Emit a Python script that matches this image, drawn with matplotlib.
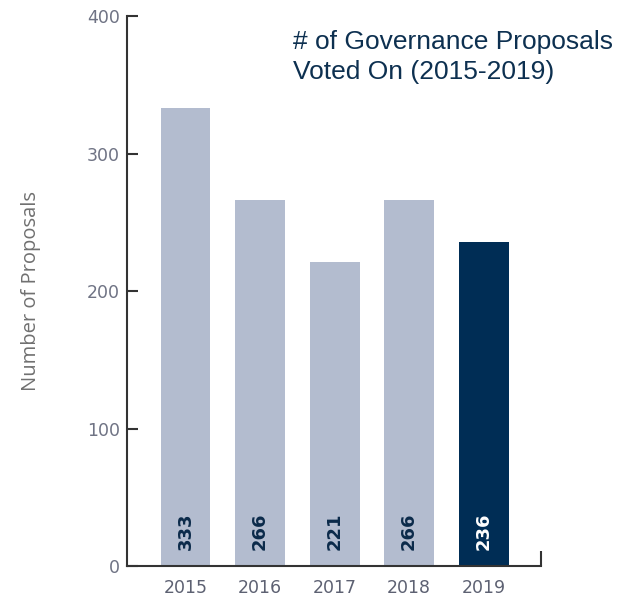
import matplotlib
matplotlib.use("Agg")
import matplotlib.pyplot as plt

years = ["2015", "2016", "2017", "2018", "2019"]
proposals = [333, 266, 221, 266, 236]
bar_colors = ["#b3bccf", "#b3bccf", "#b3bccf", "#b3bccf", "#002d55"]
label_colors = ["#0b2a4a", "#0b2a4a", "#0b2a4a", "#0b2a4a", "#ffffff"]
y_ticks = [0, 100, 200, 300, 400]

fig = plt.figure(figsize=(6.17, 5.97), dpi=100)
ax = fig.add_axes([0.2058, 0.0519, 0.6710, 0.9213])

x = list(range(len(years)))
ax.bar(x, proposals, width=0.67, color=bar_colors, zorder=2)

for xi, v, c in zip(x, proposals, label_colors):
    ax.text(xi, 25, str(v), rotation=90, ha="center", va="center",
            fontsize=13, fontweight="bold", color=c, family="DejaVu Sans", zorder=3)

ax.set_xlim(-0.785, 4.77)
ax.set_ylim(0, 400)
ax.set_xticks(x)
ax.set_xticklabels(years)
ax.set_yticks(y_ticks)

for s in ["top", "right"]:
    ax.spines[s].set_visible(False)
for s in ["left", "bottom"]:
    ax.spines[s].set_color("#333333")
    ax.spines[s].set_linewidth(1.5)

# short closing mark at the right end of the baseline
ax.plot([1, 1], [0, 0.028], transform=ax.transAxes, color="#333333",
        lw=1.5, clip_on=False, solid_capstyle="butt")

ax.tick_params(axis="y", direction="in", length=8, width=1.5, color="#333333",
               pad=5, labelsize=12.5, labelcolor="#6f7384")
ax.tick_params(axis="x", length=0, pad=9, labelsize=12.5, labelcolor="#5d6172")
for lab in ax.get_xticklabels() + ax.get_yticklabels():
    lab.set_family("DejaVu Sans")

ax.set_ylabel("Number of Proposals", fontsize=14.5, color="#707070", family="Open Sans",
              labelpad=33)

fig.text(0.475, 0.950, "# of Governance Proposals\nVoted On (2015-2019)",
         ha="left", va="top", fontsize=19, color="#0d3050", family="Liberation Sans",
         linespacing=1.3)

fig.savefig("out.png", dpi=100)
